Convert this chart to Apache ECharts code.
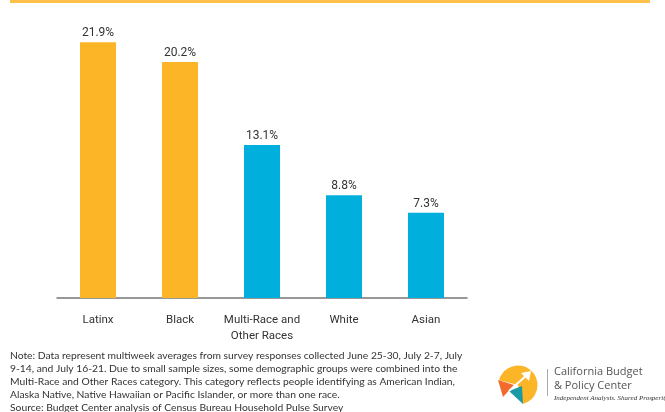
<!DOCTYPE html>
<html>
<head>
<meta charset="utf-8">
<script src="https://cdn.jsdelivr.net/npm/echarts@6/dist/echarts.min.js"></script>
<style>
html,body{margin:0;padding:0;background:#fff;}
#chart{width:665px;height:412px;}
</style>
</head>
<body>
<div id="chart"></div>
<script>
const categories = ["Latinx", "Black", "Multi-Race and\nOther Races", "White", "Asian"];
const values = [21.9, 20.2, 13.1, 8.8, 7.3];
const barColors = ["#FBB526", "#FBB526", "#00AFDB", "#00AFDB", "#00AFDB"];
const noteLines = [
  "Note: Data represent multiweek averages from survey responses collected June 25-30, July 2-7, July",
  "9-14, and July 16-21. Due to small sample sizes, some demographic groups were combined into the",
  "Multi-Race and Other Races category. This category reflects people identifying as American Indian,",
  "Alaska Native, Native Hawaiian or Pacific Islander, or more than one race.",
  "Source: Budget Center analysis of Census Bureau Household Pulse Survey"
];

const narrow = '"Liberation Sans Narrow", "Roboto", sans-serif';
const chart = echarts.init(document.getElementById('chart'));

const graphics = [
  { type: 'rect', shape: { x: 10, y: 0, width: 640, height: 3 }, style: { fill: '#FDC14A' } },
  { type: 'text', left: 10, top: 349, style: {
      text: noteLines.join('\n'), font: '10.3px Lato, "Open Sans", sans-serif', lineHeight: 13, fill: '#333' } },
  // logo
  { type: 'sector', shape: { cx: 518, cy: 385, r: 19.5, r0: 0, startAngle: Math.PI * 1.08, endAngle: Math.PI * 2.42, clockwise: true }, style: { fill: '#FBB526' } },
  { type: 'polygon', shape: { points: [[498, 380], [514, 385], [503, 397]] }, style: { fill: '#F26A2E' } },
  { type: 'polygon', shape: { points: [[509, 391], [522, 386], [523, 404]] }, style: { fill: '#1A9AA8' } },
  { type: 'line', shape: { x1: 509, y1: 391, x2: 528, y2: 374 }, style: { stroke: '#fff', lineWidth: 2 } },
  { type: 'polygon', shape: { points: [[531, 371], [521, 373], [529, 381]] }, style: { fill: '#fff' } },
  { type: 'rect', shape: { x: 547, y: 369, width: 1, height: 27 }, style: { fill: '#aaa' } },
  { type: 'text', left: 554, top: 365, style: { text: 'California Budget\n& Policy Center', font: '11px "Open Sans", sans-serif', lineHeight: 14, fill: '#555' } },
  { type: 'text', left: 554, top: 395, style: { text: 'Independent Analysis. Shared Prosperity.', font: 'italic 7px "Liberation Serif", serif', fill: '#333' } }
];

chart.setOption({
  animation: false,
  backgroundColor: '#fff',
  grid: { left: 57, right: 198, top: 6, bottom: 114, containLabel: false },
  xAxis: {
    type: 'category',
    data: categories,
    axisLine: { show: true, lineStyle: { color: '#777', width: 1.5 } },
    axisTick: { show: false },
    axisLabel: { color: '#333', fontSize: 11.5, fontFamily: narrow, margin: 14, lineHeight: 16, interval: 0 }
  },
  yAxis: {
    type: 'value', min: 0, max: 25, show: false,
    splitLine: { show: false }
  },
  series: [{
    type: 'bar',
    data: values.map((v, i) => ({ value: v, itemStyle: { color: barColors[i] } })),
    barWidth: 36,
    label: {
      show: true, position: 'top', distance: 3,
      formatter: p => p.value.toFixed(1) + '%',
      color: '#333', fontSize: 12, fontFamily: narrow
    }
  }],
  graphic: graphics
});
</script>
</body>
</html>
